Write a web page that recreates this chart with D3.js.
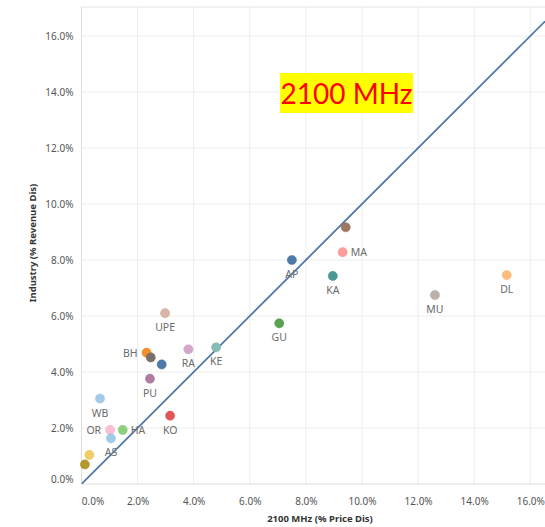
<!DOCTYPE html>
<html><head><meta charset="utf-8">
<script src="https://cdn.jsdelivr.net/npm/d3@7"></script>
<style>body{margin:0;background:#fff}svg{display:block}</style>
</head><body>
<svg id="c" width="545" height="527"></svg>
<script>
const states  = ["DL","MU","MA","","AP","KA","GU","UPE","KE","RA","BH","","","PU","WB","KO","OR","HA","AS","",""];
const xValues = [15.16,12.60,9.31,9.42,7.50,8.96,7.05,2.98,4.80,3.81,2.32,2.47,2.86,2.44,0.66,3.16,1.02,1.47,1.05,0.28,0.12];
const yValues = [7.46,6.75,8.28,9.17,8.00,7.43,5.74,6.10,4.88,4.81,4.69,4.52,4.27,3.76,3.05,2.44,1.93,1.93,1.63,1.04,0.70];
const xTicks = [0,2,4,6,8,10,12,14,16];
const yTicks = [0,2,4,6,8,10,12,14,16];
const title = "2100 MHz";
const xTitle = "2100 MHz (% Price Dis)";
const yTitle = "Industry (% Revenue Dis)";

// styling
const colors = ["#ffbe7d","#bab0ac","#ff9d9a","#9d7660","#4e79a7","#499894","#59a14f","#d7b5a6","#86bcb6","#d4a6c8","#f28e2b","#79706e","#4e79a7","#b07aa1","#a0cbe8","#e15759","#fabfd2","#8cd17d","#a0cbe8","#f1ce63","#b6992d"];
const labelSide = ["b","b","r","b","b","b","b","b","b","b","l","b","b","b","b","b","l","r","b","b","b"];

const svg = d3.select("#c");
const L = 81.5, T = 7, R = 545, B = 484;
const x = d3.scaleLinear().domain([0,1]).range([L, L + 28.05]);
x.domain([0, x.invert(R)]).range([L, R]);
const y = d3.scaleLinear().domain([0,16]).range([B, B - 16*28]);
const yTop = y.invert(T);
y.domain([0, yTop]).range([B, T]);

const font = "'Noto Sans', sans-serif";

// gridlines
const g = svg.append("g");
g.selectAll("line.h").data(yTicks.filter(d=>d>0)).join("line")
  .attr("x1", L).attr("x2", R).attr("y1", d=>y(d)).attr("y2", d=>y(d))
  .attr("stroke", "#ececec").attr("stroke-width", 1);
g.selectAll("line.v").data(xTicks.filter(d=>d>0)).join("line")
  .attr("y1", T).attr("y2", B).attr("x1", d=>x(d)).attr("x2", d=>x(d))
  .attr("stroke", "#ececec").attr("stroke-width", 1);
// borders
svg.append("line").attr("x1",L).attr("x2",L).attr("y1",T).attr("y2",B).attr("stroke","#dcdcdc");
svg.append("line").attr("x1",L).attr("x2",R).attr("y1",T).attr("y2",T).attr("stroke","#e4e4e4");
svg.append("line").attr("x1",L).attr("x2",R).attr("y1",B).attr("y2",B).attr("stroke","#dcdcdc");

// axes
const yAxis = d3.axisLeft(y).tickValues(yTicks).tickSize(0).tickPadding(8).tickFormat(d=>d.toFixed(1)+"%");
const ya = svg.append("g").attr("transform",`translate(${L},0)`).call(yAxis);
ya.select(".domain").remove();
ya.selectAll("text").attr("font-family",font).attr("font-size",10).attr("fill","#555")
  .attr("dy", d => d===0 ? "-0.2em" : "0.32em");

const xAxis = d3.axisBottom(x).tickValues(xTicks).tickSize(0).tickPadding(14).tickFormat(d=>d.toFixed(1)+"%");
const xa = svg.append("g").attr("transform",`translate(0,${B})`).call(xAxis);
xa.select(".domain").remove();
xa.selectAll("text").attr("font-family",font).attr("font-size",10).attr("fill","#555")
  .attr("dx", d => d===0 ? "1.1em" : "0");

svg.append("text").attr("x", 320).attr("y", 522).attr("text-anchor","middle")
  .attr("font-family",font).attr("font-size",9.5).attr("font-weight","bold").attr("fill","#333").text(xTitle);
svg.append("text").attr("transform","translate(36,243) rotate(-90)").attr("text-anchor","middle")
  .attr("font-family",font).attr("font-size",9.5).attr("font-weight","bold").attr("fill","#333").text(yTitle);

// clip
svg.append("clipPath").attr("id","clip").append("rect").attr("x",L).attr("y",T).attr("width",R-L).attr("height",B-T);

// diagonal y=x
const dmax = Math.min(x.domain()[1], y.domain()[1]);
svg.append("line").attr("clip-path","url(#clip)")
  .attr("x1", x(0)).attr("y1", y(0)).attr("x2", x(dmax)).attr("y2", y(dmax))
  .attr("stroke","#4e79a7").attr("stroke-width",1.8);

// points
const data = states.map((s,i)=>({s, x:xValues[i], y:yValues[i], c:colors[i], side:labelSide[i]}));
svg.append("g").selectAll("circle").data(data).join("circle")
  .attr("cx", d=>x(d.x)).attr("cy", d=>y(d.y)).attr("r", 4.6)
  .attr("fill", d=>d.c).attr("stroke", d=>d3.color(d.c).darker(0.15)).attr("stroke-width",0.5);

svg.append("g").selectAll("text").data(data.filter(d=>d.s)).join("text")
  .attr("x", d=> d.side==="l" ? x(d.x)-9 : d.side==="r" ? x(d.x)+8 : x(d.x))
  .attr("y", d=> d.side==="b" ? y(d.y)+18 : y(d.y)+4)
  .attr("text-anchor", d=> d.side==="l" ? "end" : d.side==="r" ? "start" : "middle")
  .attr("font-family",font).attr("font-size",10.5).attr("fill","#6b6b6b").text(d=>d.s);

// title box
const tg = svg.append("g");
tg.append("rect").attr("x",280).attr("y",73).attr("width",133).attr("height",40).attr("fill","#ffff00");
tg.append("text").attr("x",346.5).attr("y",104).attr("text-anchor","middle")
  .attr("font-family","Lato, sans-serif").attr("font-size",28).attr("fill","#ff0000").text(title);
</script>
</body></html>
